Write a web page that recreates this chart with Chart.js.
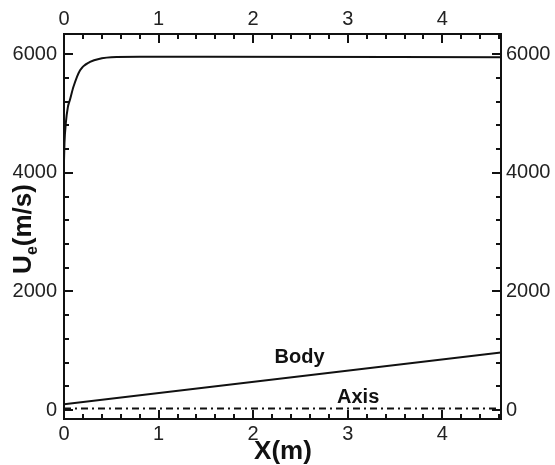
<!DOCTYPE html>
<html>
<head>
<meta charset="utf-8">
<script src="https://cdn.jsdelivr.net/npm/chart.js@4.4.1/dist/chart.umd.min.js"></script>
<style>
  html, body { margin: 0; padding: 0; background: #fff; }
</style>
</head>
<body>
<canvas id="chart" width="555" height="465"></canvas>
<script>
// edge velocity along the body
const edgeX = [0, 0.005, 0.02, 0.04, 0.063, 0.1, 0.17, 0.275, 0.4, 0.5, 0.8, 1.5, 4.62];
const edgeU = [4200, 4500, 4850, 5100, 5230, 5450, 5730, 5870, 5930, 5950, 5955, 5955, 5950];
const bodyX = [0, 4.62];
const bodyU = [100, 970];
const axisX = [0, 4.62];
const axisU = [25, 25];

const xTicks = [0, 1, 2, 3, 4];
const yTicks = [0, 2000, 4000, 6000];

const FONT = "'Liberation Sans', Arial, sans-serif";

function pts(xs, ys) {
    return xs.map((x, i) => ({ x: x, y: ys[i] }));
}

// ticks pointing into the plot, like the original frame
const innerTicks = {
    id: 'innerTicks',
    afterDatasetsDraw(chart) {
        const ctx = chart.ctx;
        const a = chart.chartArea;
        const sx = chart.scales.x, sy = chart.scales.y;
        ctx.save();
        ctx.strokeStyle = '#111';
        ctx.lineWidth = 2;
        ctx.beginPath();
        for (let v = 0; v <= 4.62; v += 0.2) {
            const major = Math.abs(v - Math.round(v)) < 1e-6;
            const len = major ? 9 : 5;
            const px = Math.round(sx.getPixelForValue(v));
            ctx.moveTo(px, a.bottom); ctx.lineTo(px, a.bottom - len);
            ctx.moveTo(px, a.top); ctx.lineTo(px, a.top + len);
        }
        for (let v = 0; v <= 6340; v += 400) {
            const major = v % 2000 === 0;
            const len = major ? 9 : 5;
            const py = Math.round(sy.getPixelForValue(v));
            ctx.moveTo(a.left, py); ctx.lineTo(a.left + len, py);
            ctx.moveTo(a.right, py); ctx.lineTo(a.right - len, py);
        }
        ctx.stroke();

        // curve labels
        ctx.fillStyle = '#111';
        ctx.font = 'bold 20px ' + FONT;
        ctx.textAlign = 'center';
        ctx.textBaseline = 'middle';
        ctx.fillText('Body', sx.getPixelForValue(2.49), sy.getPixelForValue(880));
        ctx.fillText('Axis', sx.getPixelForValue(3.11), sy.getPixelForValue(220));

        // x title
        ctx.font = 'bold 26px ' + FONT;
        ctx.fillText('X(m)', 283, 452);

        // y title with subscript
        ctx.translate(22, 229);
        ctx.rotate(-Math.PI / 2);
        ctx.textAlign = 'left';
        ctx.textBaseline = 'alphabetic';
        const big = 'bold 26px ' + FONT, small = 'bold 16px ' + FONT;
        ctx.font = big;
        const wU = ctx.measureText('U').width, wR = ctx.measureText('(m/s)').width;
        ctx.font = small;
        const wE = ctx.measureText('e').width;
        let x0 = -(wU + wE + wR) / 2;
        const base = 9;
        ctx.font = big;
        ctx.fillText('U', x0, base);
        ctx.font = small;
        ctx.fillText('e', x0 + wU, base + 6);
        ctx.font = big;
        ctx.fillText('(m/s)', x0 + wU + wE, base);
        ctx.restore();
    }
};

function axisOpts(pos, min, max, ticks, size, pad) {
    const horiz = pos === 'top' || pos === 'bottom';
    return {
        type: 'linear',
        position: pos,
        min: min,
        max: max,
        grid: { display: false, drawTicks: false },
        border: { display: true, color: '#111', width: 2 },
        afterBuildTicks: function (scale) {
            scale.ticks = ticks.map(v => ({ value: v }));
        },
        afterFit: function (scale) {
            if (horiz) scale.height = size; else scale.width = size;
        },
        ticks: {
            color: '#222',
            padding: pad,
            maxRotation: 0,
            autoSkip: false,
            font: { family: FONT, size: 20 },
            callback: v => String(v)
        }
    };
}

const ctx = document.getElementById('chart').getContext('2d');
const chart = new Chart(ctx, {
    type: 'scatter',
    data: {
        datasets: [
            {
                label: 'Ue',
                data: pts(edgeX, edgeU),
                showLine: true,
                borderColor: '#111',
                borderWidth: 2,
                pointRadius: 0,
                cubicInterpolationMode: 'monotone'
            },
            {
                label: 'Body',
                data: pts(bodyX, bodyU),
                showLine: true,
                borderColor: '#111',
                borderWidth: 2,
                pointRadius: 0
            },
            {
                label: 'Axis',
                data: pts(axisX, axisU),
                showLine: true,
                borderColor: '#111',
                borderWidth: 2,
                borderDash: [7, 4, 2, 4],
                pointRadius: 0
            }
        ]
    },
    options: {
        responsive: false,
        devicePixelRatio: 1,
        animation: false,
        layout: { padding: 0 },
        plugins: {
            legend: { display: false },
            tooltip: { enabled: false }
        },
        scales: {
            x: axisOpts('bottom', 0, 4.62, xTicks, 46, 3),
            x2: axisOpts('top', 0, 4.62, xTicks, 34, 3),
            y: axisOpts('left', -150, 6340, yTicks, 64, 7),
            y2: axisOpts('right', -150, 6340, yTicks, 54, 5)
        }
    },
    plugins: [innerTicks]
});
</script>
</body>
</html>
